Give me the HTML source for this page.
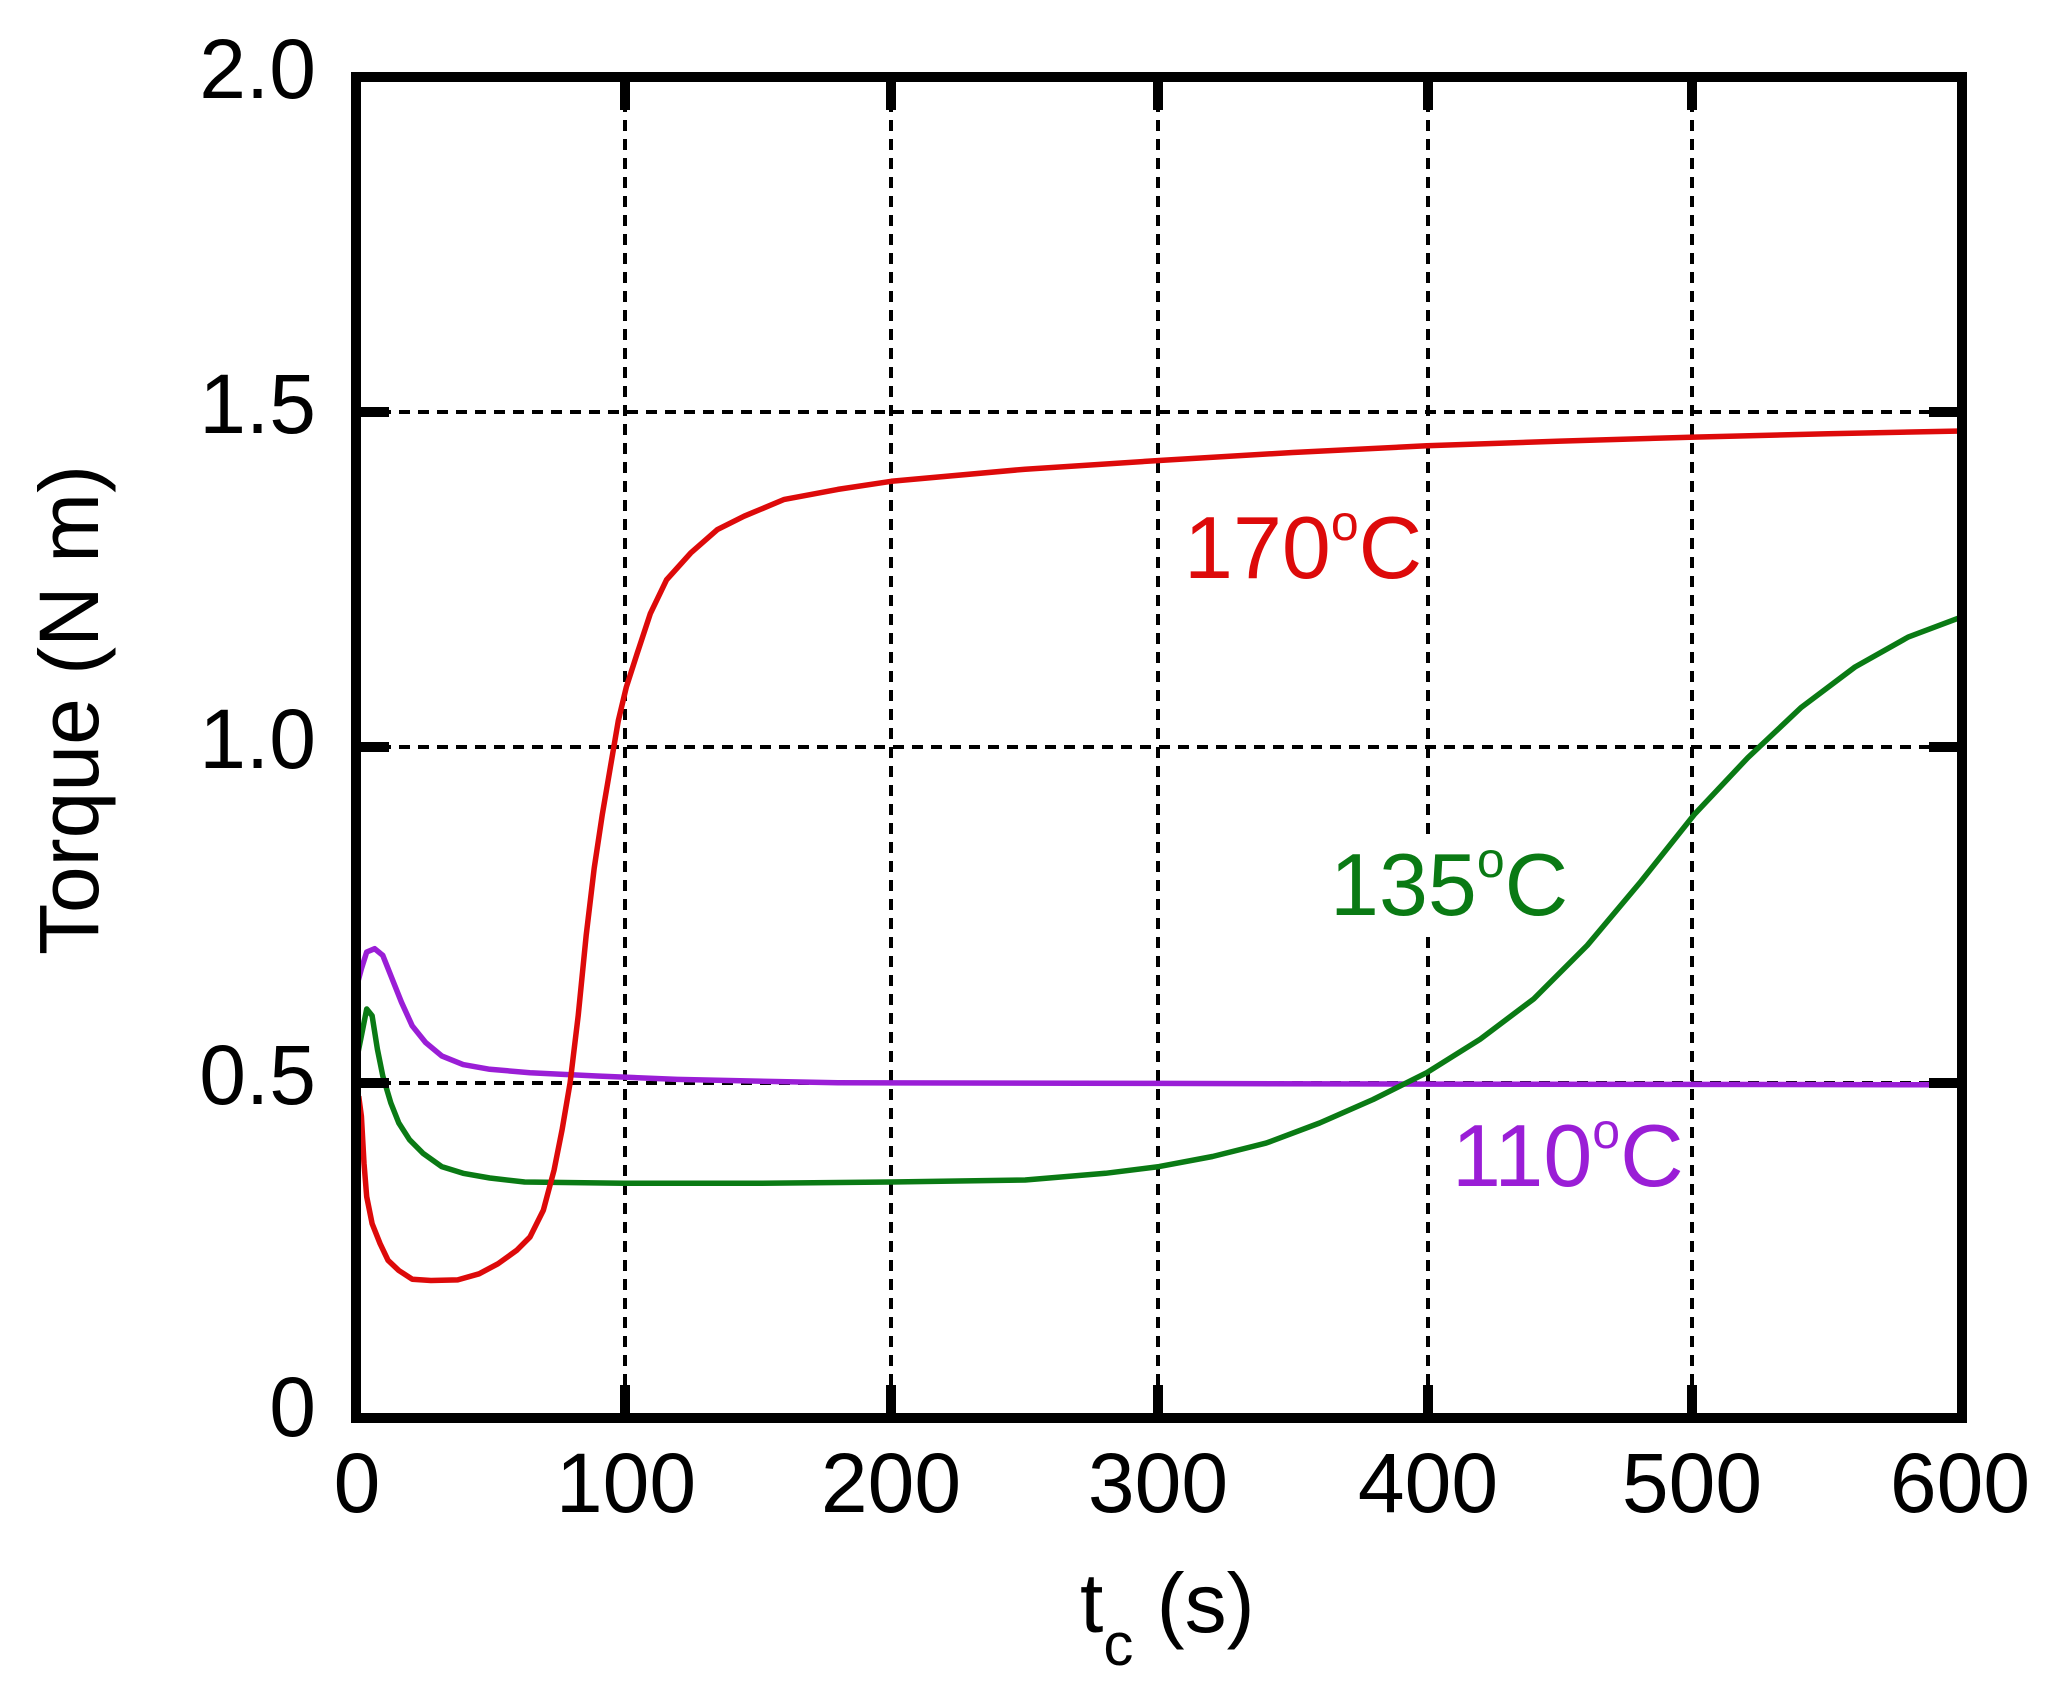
<!DOCTYPE html>
<html><head><meta charset="utf-8"><style>
html,body{margin:0;padding:0;background:#fff;}
svg{display:block;}
text{font-family:"Liberation Sans",Arial,sans-serif;}
</style></head><body>
<svg id="s" width="2048" height="1695" viewBox="0 0 2048 1695" xmlns="http://www.w3.org/2000/svg">
<rect width="2048" height="1695" fill="#fff"/>
<g id="grid" stroke="#000" stroke-width="4" stroke-dasharray="11,8" fill="none">
<line x1="625" y1="82" x2="625" y2="1413"/>
<line x1="891" y1="82" x2="891" y2="1413"/>
<line x1="1158" y1="82" x2="1158" y2="1413"/>
<line x1="1428" y1="82" x2="1428" y2="1413"/>
<line x1="1692" y1="82" x2="1692" y2="1413"/>
<line x1="361" y1="412" x2="1957" y2="412"/>
<line x1="361" y1="747" x2="1957" y2="747"/>
<line x1="361" y1="1083" x2="1957" y2="1083"/>
</g>
<g fill="#fff">
<rect x="1176" y="495" width="240" height="95"/>
<rect x="1322" y="835" width="240" height="95"/>
<rect x="1445" y="1105" width="240" height="95"/>
</g>
<g id="curves" fill="none" stroke-width="5.5" stroke-linejoin="round"></g>
<g stroke="#000" stroke-width="10" fill="none">
<rect x="356" y="77" width="1606" height="1341"/>
<line x1="625" y1="77" x2="625" y2="110"/><line x1="625" y1="1418" x2="625" y2="1385"/>
<line x1="891" y1="77" x2="891" y2="110"/><line x1="891" y1="1418" x2="891" y2="1385"/>
<line x1="1158" y1="77" x2="1158" y2="110"/><line x1="1158" y1="1418" x2="1158" y2="1385"/>
<line x1="1428" y1="77" x2="1428" y2="110"/><line x1="1428" y1="1418" x2="1428" y2="1385"/>
<line x1="1692" y1="77" x2="1692" y2="110"/><line x1="1692" y1="1418" x2="1692" y2="1385"/>
<line x1="356" y1="412" x2="389" y2="412"/><line x1="1962" y1="412" x2="1929" y2="412"/>
<line x1="356" y1="747" x2="389" y2="747"/><line x1="1962" y1="747" x2="1929" y2="747"/>
<line x1="356" y1="1083" x2="389" y2="1083"/><line x1="1962" y1="1083" x2="1929" y2="1083"/>
</g>
<g font-size="84" fill="#000" text-anchor="end">
<text x="316" y="98">2.0</text>
<text x="316" y="433">1.5</text>
<text x="316" y="768">1.0</text>
<text x="316" y="1104">0.5</text>
<text x="316" y="1436">0</text>
</g>
<g font-size="84" fill="#000" text-anchor="middle">
<text x="357" y="1512">0</text>
<text x="626" y="1512">100</text>
<text x="891" y="1512">200</text>
<text x="1158" y="1512">300</text>
<text x="1428" y="1512">400</text>
<text x="1692" y="1512">500</text>
<text x="1960" y="1512">600</text>
</g>
<text x="0" y="0" font-size="84" text-anchor="middle" transform="translate(98,710) rotate(-90)">Torque (N m)</text>
<text x="1080" y="1632" font-size="84">t<tspan font-size="60" dy="33">c</tspan><tspan dy="-33"> (s)</tspan></text>
<text x="1184" y="578" font-size="88" fill="#dd0a0a">170<tspan font-size="50" dy="-38">o</tspan><tspan dy="38">C</tspan></text>
<text x="1330" y="915" font-size="88" fill="#0a7a14">135<tspan font-size="50" dy="-38">o</tspan><tspan dy="38">C</tspan></text>
<text x="1452" y="1186" font-size="88" fill="#9a1ed6">110<tspan font-size="50" dy="-38">o</tspan><tspan dy="38">C</tspan></text>
</svg>
<script>
(function(){
var X=function(t){return 356+2.6767*t;},Y=function(v){return 1418-670.5*v;};
var red=[[1,0.48],[2,0.45],[3,0.38],[4,0.33],[6,0.29],[9,0.26],[12,0.235],[16,0.22],[21,0.207],[28,0.205],[38,0.206],[46,0.215],[53,0.23],[60,0.25],[65,0.27],[70,0.31],[74,0.37],[77,0.43],[80,0.5],[83,0.6],[86,0.72],[89,0.82],[92,0.9],[95,0.97],[98,1.04],[101,1.09],[105,1.14],[110,1.2],[116,1.25],[125,1.29],[135,1.325],[145,1.345],[160,1.37],[180,1.385],[200,1.397],[250,1.415],[300,1.428],[350,1.44],[400,1.45],[450,1.457],[500,1.463],[550,1.468],[600,1.472]];
var green=[[0,0.53],[2,0.57],[4,0.61],[6,0.6],[8,0.55],[10,0.51],[13,0.47],[16,0.44],[20,0.415],[25,0.395],[32,0.375],[40,0.365],[50,0.358],[63,0.352],[100,0.35],[150,0.35],[200,0.352],[250,0.355],[280,0.365],[300,0.375],[320,0.39],[340,0.41],[360,0.44],[380,0.475],[400,0.515],[420,0.565],[440,0.625],[460,0.705],[480,0.8],[500,0.9],[520,0.985],[540,1.06],[560,1.12],[580,1.165],[600,1.195]];
var purple=[[0,0.64],[2,0.67],[4,0.695],[7,0.7],[10,0.69],[13,0.66],[17,0.62],[21,0.585],[26,0.56],[32,0.54],[40,0.527],[50,0.52],[65,0.515],[90,0.51],[120,0.505],[180,0.5],[300,0.499],[400,0.498],[600,0.497]];
function add(d,c){var p=d.map(function(q){return X(q[0]).toFixed(1)+","+Y(q[1]).toFixed(1);}).join(" ");
var e=document.createElementNS("http://www.w3.org/2000/svg","polyline");e.setAttribute("points",p);e.setAttribute("stroke",c);document.getElementById("curves").appendChild(e);}
add(purple,"#9a1ed6");add(green,"#0a7a14");add(red,"#dd0a0a");
})();
</script>
</body></html>
